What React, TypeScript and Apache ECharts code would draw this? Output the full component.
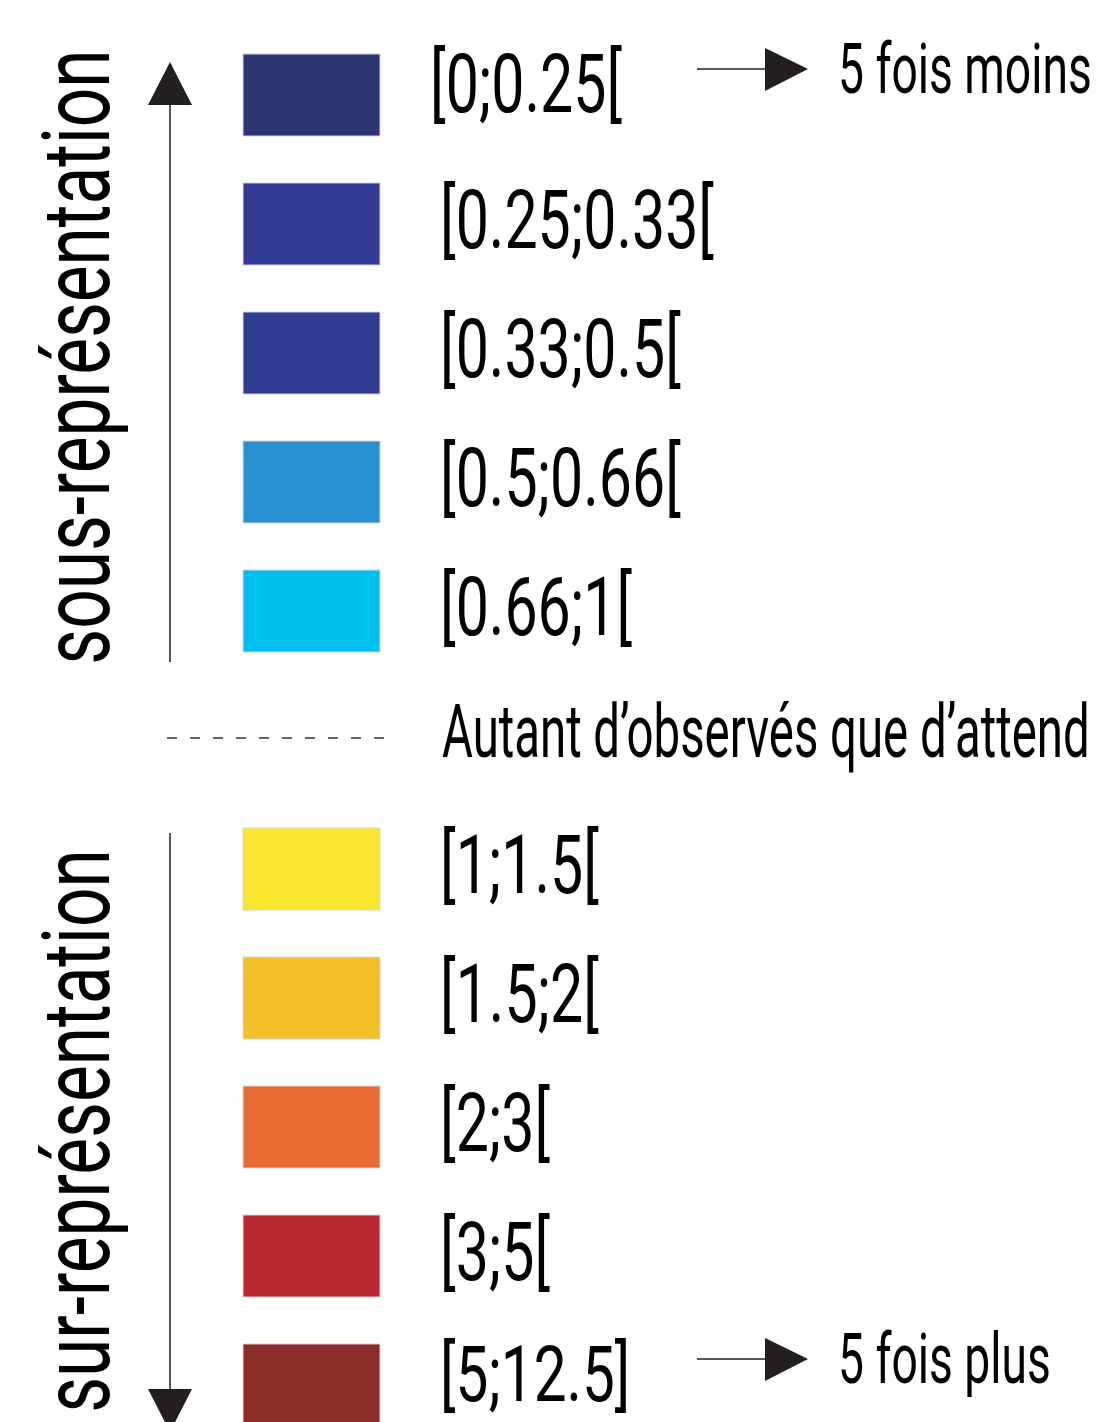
import React, { useEffect, useRef } from "react";
import * as echarts from "echarts";

// ---- data ----
const categories = [
  "[0;0.25[",
  "[0.25;0.33[",
  "[0.33;0.5[",
  "[0.5;0.66[",
  "[0.66;1[",
  "Autant d’observés que d’attend",
  "[1;1.5[",
  "[1.5;2[",
  "[2;3[",
  "[3;5[",
  "[5;12.5]",
];
const swatchColors = [
  "#2C3672",
  "#323C96",
  "#303B94",
  "#2890D0",
  "#00BFEC",
  null,
  "#FAE62E",
  "#F2BF27",
  "#E96A33",
  "#BA2A30",
  "#8C2D29",
];
const neutralRow = 5;
const sideNotes = [
  { row: 0, text: "5 fois moins" },
  { row: 10, text: "5 fois plus" },
];
const groups = [
  { from: 0, to: 4, text: "sous-représentation", dir: "up" },
  { from: 6, to: 10, text: "sur-représentation", dir: "down" },
];

const FONT = "Roboto, 'Noto Sans', sans-serif";
const INK = "#231F20";

function txt(x: number, y: number, text: string, fontSize: number, scaleX: number, extra: any = {}) {
  return {
    type: "text",
    x,
    y,
    scaleX,
    ...extra,
    style: {
      text,
      x: 0,
      y: 0,
      fill: "#000",
      fontSize,
      lineHeight: Math.round(fontSize * 0.8),
      fontFamily: FONT,
      align: extra.align || "left",
      textAlign: extra.align || "left",
      verticalAlign: "middle",
      textVerticalAlign: "middle",
    },
  };
}

export default function App() {
  const ref = useRef<HTMLDivElement>(null);
  useEffect(() => {
    if (!ref.current) return;
    const chart = echarts.init(ref.current, undefined, { renderer: "svg" });
    const lastRow = categories.length - 1;

    const rowItem = (params: any, api: any) => {
      const i = api.value(1);
      const [, cy] = api.coord([0, i]);
      const band = api.size([0, 1])[1];
      const children: any[] = [];
      const color = swatchColors[i];
      if (i === neutralRow) {
        children.push({
          type: "line",
          shape: { x1: 167, y1: cy - 2, x2: 390, y2: cy - 2 },
          style: { stroke: "#333", lineWidth: 1.5, lineDash: [10, 13] },
        });
        children.push(txt(442, cy - 9, categories[i], 74, 0.64));
      } else {
        const h = band * 0.636;
        children.push({
          type: "rect",
          shape: { x: 243, y: cy - h / 2, width: 137, height: h },
          style: { fill: color, stroke: "#D8D8D8", lineWidth: 1 },
        });
        const dx = i === 0 ? -10 : 0;
        const dy = i === 0 ? -11 : i === lastRow ? -11 : -4;
        const fs = i === lastRow ? 78 : 82;
        const sx = i === lastRow ? 0.75 : 0.72;
        children.push(txt(440 + dx, cy + dy, categories[i], fs, sx));
      }
      return { type: "group", children };
    };

    const noteItem = (params: any, api: any) => {
      const i = api.value(1);
      const [, c] = api.coord([0, i]);
      const cy = c - 26;
      const note = sideNotes[params.dataIndex];
      return {
        type: "group",
        children: [
          {
            type: "line",
            shape: { x1: 697, y1: cy, x2: 770, y2: cy },
            style: { stroke: INK, lineWidth: 1.5 },
          },
          {
            type: "polygon",
            shape: { points: [[765, cy - 21], [808, cy], [765, cy + 22]] },
            style: { fill: INK },
          },
          txt(838, cy, note.text, 70, 0.66),
        ],
      };
    };

    const groupItem = (params: any, api: any) => {
      const g = groups[params.dataIndex];
      const [, y0] = api.coord([0, api.value(0)]);
      const [, y1] = api.coord([0, api.value(1)]);
      const mid = (y0 + y1) / 2 + 4;
      const children: any[] = [];
      if (g.dir === "up") {
        children.push({
          type: "line",
          shape: { x1: 170, y1: y0 + 5, x2: 170, y2: y1 + 51 },
          style: { stroke: INK, lineWidth: 1.5 },
        });
        children.push({
          type: "polygon",
          shape: { points: [[148, y0 + 10], [170, y0 - 33], [192, y0 + 10]] },
          style: { fill: INK },
        });
      } else {
        children.push({
          type: "line",
          shape: { x1: 170, y1: y0 - 36, x2: 170, y2: y1 + 8 },
          style: { stroke: INK, lineWidth: 1.5 },
        });
        children.push({
          type: "polygon",
          shape: { points: [[148, y1 + 4], [170, y1 + 47], [192, y1 + 4]] },
          style: { fill: INK },
        });
      }
      children.push(
        txt(76, mid, g.text, 95, 0.73, { rotation: Math.PI / 2, align: "center" })
      );
      return { type: "group", children };
    };

    chart.setOption({
      animation: false,
      backgroundColor: "#fff",
      grid: { left: 0, top: 30.5, width: 1100, height: 1419 },
      xAxis: { type: "value", min: 0, max: 1100, show: false },
      yAxis: {
        type: "category",
        data: categories,
        inverse: true,
        show: false,
        boundaryGap: true,
      },
      series: [
        {
          type: "custom",
          clip: false,
          renderItem: rowItem,
          encode: { x: 0, y: 1 },
          data: categories.map((_, i) => [0, i]),
        },
        {
          type: "custom",
          clip: false,
          renderItem: noteItem,
          encode: { x: 0, y: 1 },
          data: sideNotes.map((n) => [0, n.row]),
        },
        {
          type: "custom",
          clip: false,
          renderItem: groupItem,
          encode: { x: 0, y: 1 },
          data: groups.map((g) => [g.from, g.to]),
        },
      ],
    });
    return () => chart.dispose();
  }, []);

  return (
    <div
      style={{
        position: "absolute",
        left: 0,
        top: 0,
        width: 1100,
        height: 1422,
        overflow: "hidden",
        background: "#fff",
      }}
    >
      <div ref={ref} style={{ width: 1100, height: 1470 }} />
    </div>
  );
}
